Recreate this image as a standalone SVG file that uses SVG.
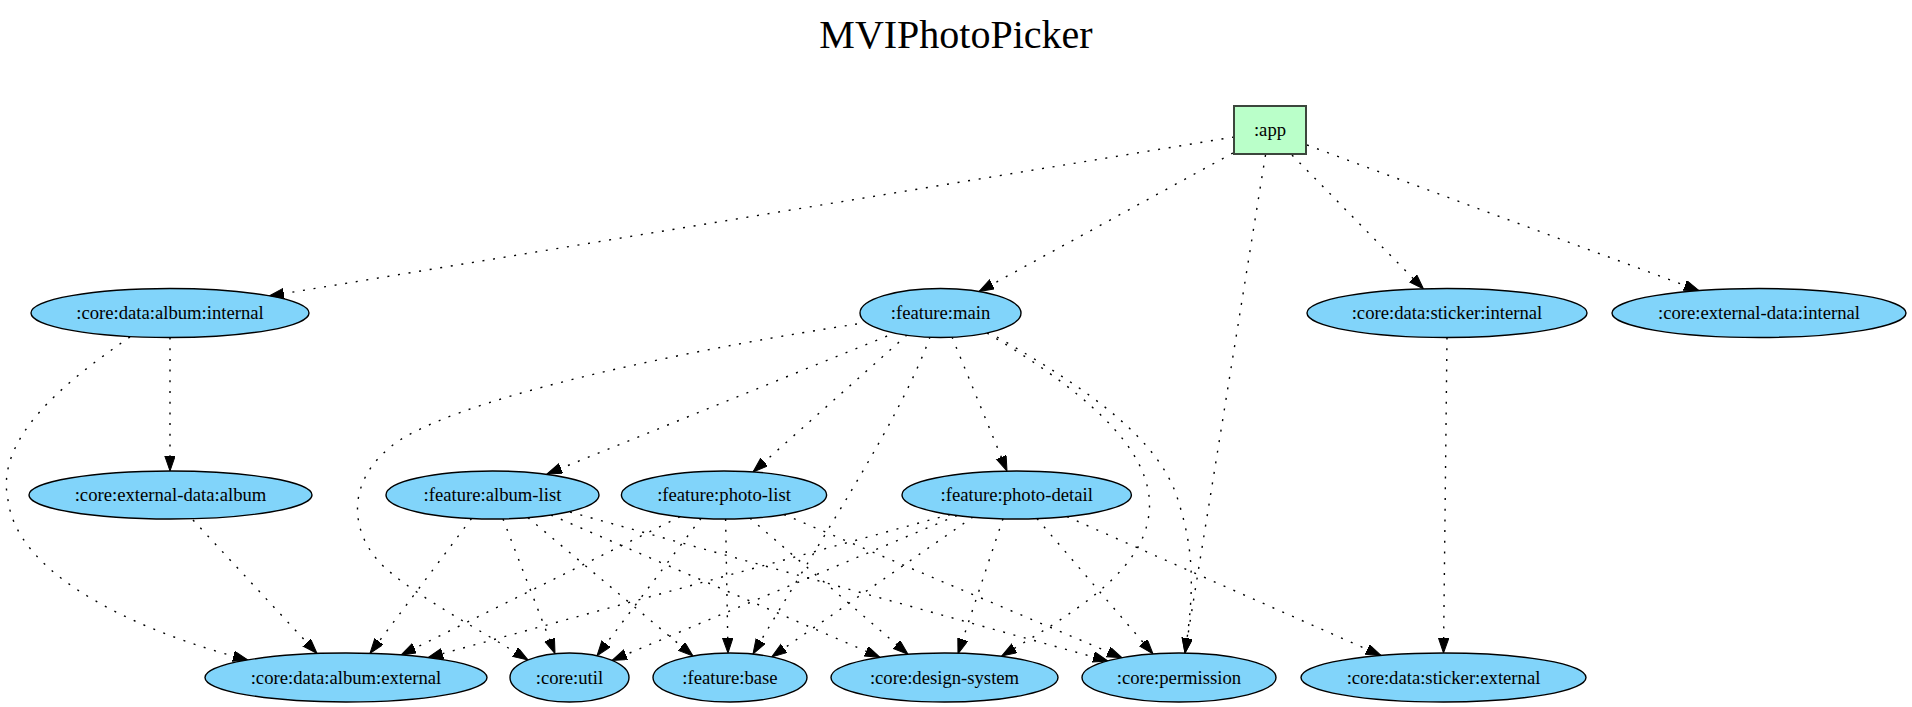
<svg xmlns="http://www.w3.org/2000/svg" width="1912" height="707" viewBox="0 0 1912 707">
<style>
.n ellipse{fill:#81d4fa;stroke:#000;stroke-width:1.4}
.n rect{fill:#baffc9;stroke:#3c463c;stroke-width:2}
text{font-family:"Liberation Serif","Times New Roman",serif;font-size:18.67px;text-anchor:middle;fill:#000}
.title{font-size:40px}
.e path{fill:none;stroke:#000;stroke-width:1.4;stroke-dasharray:2,8.7;marker-end:url(#arr)}
</style>
<defs>
<marker id="arr" markerUnits="userSpaceOnUse" markerWidth="16" markerHeight="12" refX="15" refY="5.2" orient="auto">
<path d="M0,0 L15,5.2 L0,10.4 z" fill="#000" stroke="#000" stroke-width="1"/>
</marker>
</defs>
<rect width="1912" height="707" fill="#fff"/>
<text class="title" x="956" y="48">MVIPhotoPicker</text>
<g class="e" id="edges">
<path d="M1234,137 L269,296"/>
<path d="M1233,153 L979,291.5"/>
<path d="M1265.5,155 L1185,653"/>
<path d="M1292,155 L1423.5,289"/>
<path d="M1307,145 L1699,290.6"/>
<path d="M170,337.5 L170,471"/>
<path d="M130,337 C60,385 -5,440 8,500 C18,580 150,635 248,660"/>
<path d="M897,332 L547,474"/>
<path d="M907,335 L753,472"/>
<path d="M952,337 L1007,471"/>
<path d="M857,324 C720,345 480,390 400,440 C340,480 350,540 390,572 C420,598 480,630 528,660"/>
<path d="M930,337 C900,420 820,540 753,654"/>
<path d="M987,333 C1100,400 1160,460 1148,520 C1138,575 1070,615 1001.7,656"/>
<path d="M997,337 C1090,390 1160,440 1178,500 C1192,545 1196,580 1185,653"/>
<path d="M1447,337.5 L1443.5,653"/>
<path d="M193,520 L317,653.5"/>
<path d="M471.5,518.5 L370,653.4"/>
<path d="M503,519 L555,653.7"/>
<path d="M528,517.6 L693,656"/>
<path d="M551,515 L880,657.3"/>
<path d="M570,512 L1108,661"/>
<path d="M680,516.7 L401,655"/>
<path d="M701,518.4 L597,655.8"/>
<path d="M725.6,519 L728,653"/>
<path d="M750,518.2 L908,654.3"/>
<path d="M784,514.5 L1122,657.7"/>
<path d="M950,514.5 L428,657.6"/>
<path d="M957,515.5 L612,660.4"/>
<path d="M973,517 L771.7,656.9"/>
<path d="M1003,518.7 L958,653.7"/>
<path d="M1037,518.6 L1153,653.9"/>
<path d="M1067,516.6 L1381,655.5"/>
</g>
<g class="n" id="app"><rect x="1234" y="106" width="72" height="48"/><text x="1270" y="136">:app</text></g>
<g class="n" id="core-data-album-internal"><ellipse cx="170" cy="313" rx="139" ry="24.5"/><text x="170" y="319">:core:data:album:internal</text></g>
<g class="n" id="feature-main"><ellipse cx="940.5" cy="313" rx="80.5" ry="24.5"/><text x="940.5" y="319">:feature:main</text></g>
<g class="n" id="core-data-sticker-internal"><ellipse cx="1447" cy="313" rx="140" ry="24.5"/><text x="1447" y="319">:core:data:sticker:internal</text></g>
<g class="n" id="core-external-data-internal"><ellipse cx="1759" cy="313" rx="147" ry="24.5"/><text x="1759" y="319">:core:external-data:internal</text></g>
<g class="n" id="core-external-data-album"><ellipse cx="170.5" cy="495" rx="141.5" ry="24"/><text x="170.5" y="501">:core:external-data:album</text></g>
<g class="n" id="feature-album-list"><ellipse cx="492.5" cy="495" rx="106.5" ry="24"/><text x="492.5" y="501">:feature:album-list</text></g>
<g class="n" id="feature-photo-list"><ellipse cx="724" cy="495" rx="102.6" ry="24"/><text x="724" y="501">:feature:photo-list</text></g>
<g class="n" id="feature-photo-detail"><ellipse cx="1016.7" cy="495" rx="114.7" ry="24"/><text x="1016.7" y="501">:feature:photo-detail</text></g>
<g class="n" id="core-data-album-external"><ellipse cx="346" cy="677.5" rx="141" ry="24.5"/><text x="346" y="683.5">:core:data:album:external</text></g>
<g class="n" id="core-util"><ellipse cx="569.5" cy="677.5" rx="59.5" ry="24.5"/><text x="569.5" y="683.5">:core:util</text></g>
<g class="n" id="feature-base"><ellipse cx="730" cy="677.5" rx="77" ry="24.5"/><text x="730" y="683.5">:feature:base</text></g>
<g class="n" id="core-design-system"><ellipse cx="944.5" cy="677.5" rx="113.5" ry="24.5"/><text x="944.5" y="683.5">:core:design-system</text></g>
<g class="n" id="core-permission"><ellipse cx="1179" cy="677.5" rx="97" ry="24.5"/><text x="1179" y="683.5">:core:permission</text></g>
<g class="n" id="core-data-sticker-external"><ellipse cx="1443.5" cy="677.5" rx="142.5" ry="24.5"/><text x="1443.5" y="683.5">:core:data:sticker:external</text></g>
</svg>
